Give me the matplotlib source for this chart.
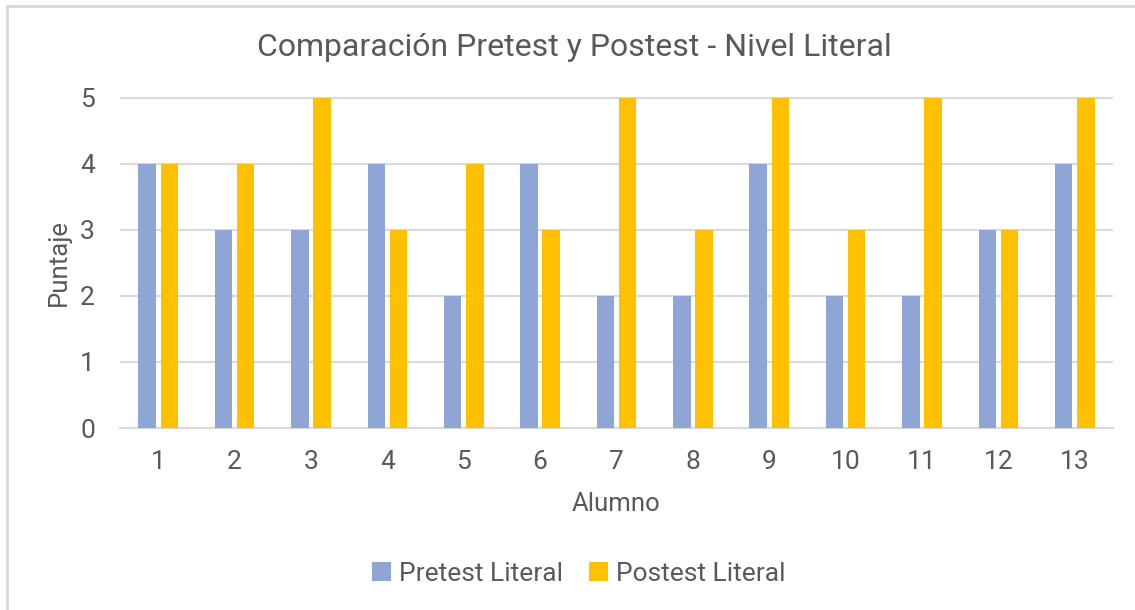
import numpy as np
import matplotlib
matplotlib.use('Agg')
from matplotlib import pyplot as plt
from matplotlib.lines import Line2D

plt.rcParams['font.family'] = ['Roboto', 'DejaVu Sans']

# Data
alumnos = ['1', '2', '3', '4', '5', '6', '7', '8', '9', '10', '11', '12', '13']
pretest = [4, 3, 3, 4, 2, 4, 2, 2, 4, 2, 2, 3, 4]
postest = [4, 4, 5, 3, 4, 3, 5, 3, 5, 3, 5, 3, 5]

txt = '#595959'
grid = '#D9D9D9'
c_pre = '#8FA5D6'
c_post = '#FFC000'

fig = plt.figure(figsize=(11.35, 6.1), dpi=100)
ax = fig.add_axes([120/1135, 1 - 428/610, 993/1135, 331/610])

x = np.arange(len(alumnos))
w = 0.228
off = 0.145
ax.bar(x - off, pretest, w, color=c_pre, label='Pretest Literal', zorder=3)
ax.bar(x + off, postest, w, color=c_post, label='Postest Literal', zorder=3)

ax.set_xlim(-0.5, len(alumnos) - 0.5)
ax.set_ylim(0, 5.01)
ax.set_yticks(range(0, 6))
ax.set_xticks(x)
ax.set_xticklabels(alumnos)
ax.yaxis.grid(True, color=grid, lw=1.5, zorder=0)
ax.set_axisbelow(True)
for s in ['top', 'right', 'left']:
    ax.spines[s].set_visible(False)
ax.spines['bottom'].set_color(grid)
ax.spines['bottom'].set_linewidth(1.5)
ax.tick_params(length=0, labelsize=19, colors=txt)
ax.tick_params(axis='y', pad=18)
ax.tick_params(axis='x', pad=16)

ax.set_xlabel('Alumno', fontsize=18.5, color=txt, labelpad=13)
ax.set_ylabel('Puntaje', fontsize=18.5, color=txt, labelpad=7)

fig.text(574/1135, 1 - 47/610, 'Comparación Pretest y Postest - Nivel Literal',
         ha='center', va='center', fontsize=23, color=txt)

leg = fig.legend(loc='center', bbox_to_anchor=(579/1135, 1 - 574/610), ncol=2,
                 frameon=False, fontsize=19, handlelength=0.72, handleheight=0.72,
                 handletextpad=0.3, columnspacing=1.0, labelcolor=txt)

# chart border (top and left only visible)
fig.add_artist(Line2D([7/1135, 7/1135], [0, 1 - 5.5/610], transform=fig.transFigure,
                      color=grid, lw=2))
fig.add_artist(Line2D([7/1135, 1], [1 - 5.5/610, 1 - 5.5/610], transform=fig.transFigure,
                      color=grid, lw=2))

fig.savefig('out.png', dpi=100)
